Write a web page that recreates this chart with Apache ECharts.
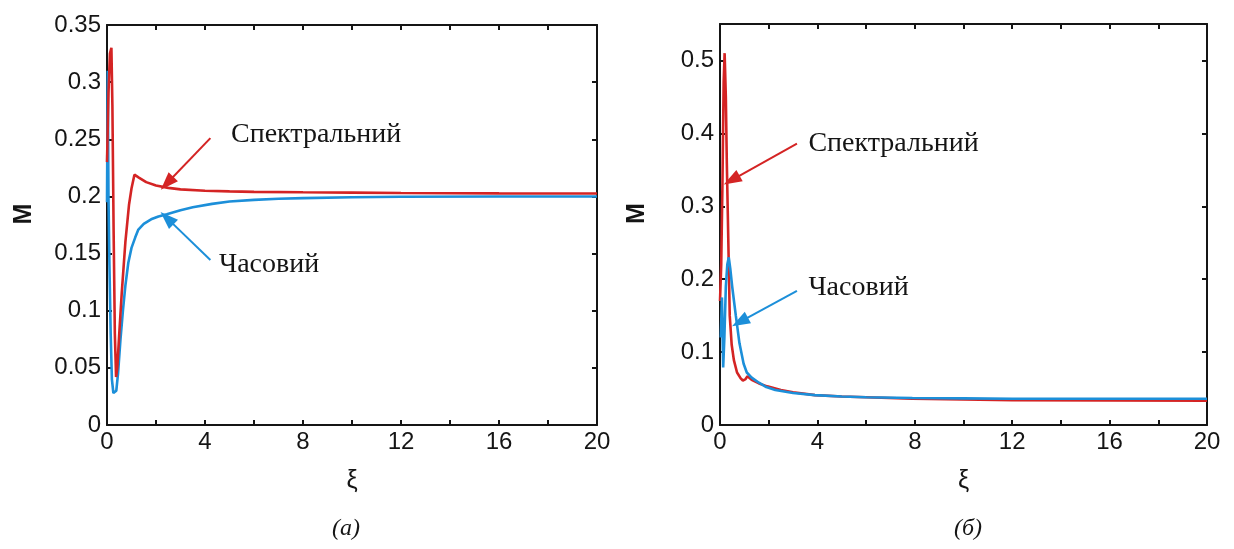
<!DOCTYPE html>
<html>
<head>
<meta charset="utf-8">
<script src="https://cdn.jsdelivr.net/npm/echarts@6/dist/echarts.min.js"></script>
<style>
  html, body { margin: 0; padding: 0; background: #ffffff; }
  #chart { width: 1234px; height: 549px; }
</style>
</head>
<body>
<div id="chart"></div>
<script>
// ---- Panel (a): M(ξ) ----
const aSpectralX = [0, 0.06, 0.12, 0.18, 0.22, 0.27, 0.32, 0.37, 0.42, 0.5, 0.6, 0.75, 0.9, 1.0, 1.12, 1.3, 1.6, 2.0, 2.5, 3.0, 4.0, 5.0, 6.0, 8.0, 10.0, 12.0, 16.0, 20.0];
const aSpectralY = [0.23, 0.29, 0.325, 0.33, 0.28, 0.17, 0.08, 0.042, 0.05, 0.08, 0.115, 0.16, 0.193, 0.207, 0.219, 0.2165, 0.2125, 0.2095, 0.2075, 0.2062, 0.2050, 0.2044, 0.2040, 0.2036, 0.2033, 0.2030, 0.2027, 0.2025];
const aTemporalX = [0, 0.03, 0.06, 0.1, 0.15, 0.2, 0.26, 0.32, 0.38, 0.45, 0.55, 0.65, 0.75, 0.87, 1.0, 1.15, 1.28, 1.5, 1.8, 2.1, 2.44, 3.0, 3.5, 4.29, 5.0, 6.0, 7.0, 8.0, 10.0, 12.0, 16.0, 20.0];
const aTemporalY = [0.195, 0.31, 0.2, 0.14, 0.08, 0.04, 0.028, 0.027, 0.03, 0.045, 0.075, 0.1, 0.122, 0.142, 0.155, 0.164, 0.171, 0.176, 0.18, 0.1825, 0.1845, 0.188, 0.1905, 0.1935, 0.1955, 0.197, 0.198, 0.1985, 0.1993, 0.1997, 0.2, 0.2];

// ---- Panel (б): M(ξ) ----
const bSpectralX = [0, 0.05, 0.1, 0.15, 0.19, 0.24, 0.28, 0.32, 0.36, 0.4, 0.48, 0.57, 0.7, 0.85, 0.94, 1.05, 1.13, 1.3, 1.6, 1.94, 2.5, 3.0, 3.9, 5.0, 6.0, 7.9, 10.0, 12.0, 16.0, 20.0];
const bSpectralY = [0.17, 0.22, 0.33, 0.47, 0.51, 0.45, 0.36, 0.29, 0.22, 0.15, 0.11, 0.089, 0.072, 0.064, 0.061, 0.063, 0.067, 0.062, 0.057, 0.053, 0.048, 0.045, 0.041, 0.039, 0.038, 0.036, 0.035, 0.034, 0.0337, 0.0335];
const bTemporalX = [0.03, 0.08, 0.13, 0.18, 0.24, 0.3, 0.36, 0.42, 0.5, 0.65, 0.8, 0.97, 1.1, 1.3, 1.6, 1.9, 2.27, 3.0, 3.9, 5.0, 6.0, 7.9, 10.0, 12.0, 16.0, 20.0];
const bTemporalY = [0.12, 0.175, 0.079, 0.12, 0.19, 0.22, 0.23, 0.215, 0.19, 0.15, 0.112, 0.084, 0.072, 0.065, 0.058, 0.052, 0.048, 0.044, 0.041, 0.039, 0.038, 0.037, 0.0365, 0.036, 0.036, 0.036];

// Axis tick values
const xTicks = { min: 0, max: 20, interval: 4 };
const aYTicks = { min: 0, max: 0.35, interval: 0.05 };
const bYTicks = { min: 0, max: 0.55, interval: 0.1 };

// Curve names and panel captions
const spectralName = 'Спектральний';
const temporalName = 'Часовий';
const captions = ['(а)', '(б)'];

// Annotation anchors [text position, arrow start, arrow tip] in data units
const aSpectralNote = [[5.04, 0.254], [4.22, 0.251], [2.45, 0.2115]];
const aTemporalNote = [[4.55, 0.140], [4.22, 0.1444], [2.45, 0.181]];
const bSpectralNote = [[3.61, 0.386], [3.16, 0.386], [0.48, 0.336]];
const bTemporalNote = [[3.61, 0.189], [3.16, 0.184], [0.82, 0.1415]];

const RED = '#d42424';
const BLUE = '#1c8fd9';
const INK = '#151515';
const SANS = '"Liberation Sans", Arial, sans-serif';
const SERIF = '"Liberation Serif", "Times New Roman", serif';

function zip(xs, ys) { return xs.map((x, i) => [x, ys[i]]); }

function boxAxisLine() {
  return { show: true, onZero: false, lineStyle: { color: INK, width: 2 } };
}

// max is labelled only when it falls on the tick interval
function maxOnTick(t) {
  const k = t.max / t.interval;
  return Math.abs(k - Math.round(k)) < 1e-9;
}

function xAxes(gridIndex) {
  const base = {
    type: 'value', gridIndex, min: xTicks.min, max: xTicks.max, interval: xTicks.interval,
    splitLine: { show: false },
    axisLine: boxAxisLine(),
    axisTick: { show: true, inside: true, length: 5, lineStyle: { color: INK, width: 2 } },
    minorTick: { show: true, splitNumber: 2, length: 5, lineStyle: { color: INK, width: 2 } }
  };
  return [
    Object.assign({}, base, {
      position: 'bottom', name: 'ξ', nameLocation: 'middle', nameGap: 44,
      nameTextStyle: { fontFamily: SANS, fontSize: 25, color: INK },
      axisLabel: { fontFamily: SANS, fontSize: 24, color: INK, margin: 5 }
    }),
    Object.assign({}, base, { position: 'top', axisLabel: { show: false } })
  ];
}

function yAxes(gridIndex, t) {
  const base = {
    type: 'value', gridIndex, min: t.min, max: t.max, interval: t.interval,
    splitLine: { show: false },
    axisLine: boxAxisLine(),
    axisTick: { show: true, inside: true, length: 5, lineStyle: { color: INK, width: 2 } }
  };
  return [
    Object.assign({}, base, {
      position: 'left', name: 'M', nameLocation: 'middle', nameGap: 70, nameRotate: 90,
      nameTextStyle: { fontFamily: SANS, fontSize: 25, fontWeight: 'bold', color: INK, padding: [0, 0, 0, 22] },
      axisLabel: { fontFamily: SANS, fontSize: 24, color: INK, margin: 6, showMaxLabel: maxOnTick(t) }
    }),
    Object.assign({}, base, { position: 'right', axisLabel: { show: false } })
  ];
}

function curve(name, data, color, axisIdx, note) {
  return {
    type: 'line', name, data,
    xAxisIndex: axisIdx, yAxisIndex: axisIdx,
    showSymbol: false, smooth: false, animation: false,
    lineStyle: { color, width: 2.6 },
    z: 3,
    markLine: {
      silent: true, animation: false,
      symbol: ['none', 'triangle'], symbolSize: [13, 18],
      lineStyle: { color, width: 2, type: 'solid' },
      label: { show: false },
      data: [[{ coord: note[1] }, { coord: note[2] }]]
    },
    markPoint: {
      silent: true, animation: false,
      symbol: 'circle', symbolSize: 1,
      itemStyle: { color: 'rgba(0,0,0,0)' },
      label: {
        show: true, position: 'right', distance: 0,
        formatter: name, fontFamily: SERIF, fontSize: 28, color: INK
      },
      data: [{ coord: note[0] }]
    }
  };
}

const chart = echarts.init(document.getElementById('chart'), null, { renderer: 'canvas' });

chart.setOption({
  backgroundColor: '#ffffff',
  animation: false,
  title: [
    { text: captions[0], left: 341, top: 512, textAlign: 'center',
      textStyle: { fontFamily: SERIF, fontStyle: 'italic', fontWeight: 'normal', fontSize: 24, color: INK } },
    { text: captions[1], left: 963, top: 512, textAlign: 'center',
      textStyle: { fontFamily: SERIF, fontStyle: 'italic', fontWeight: 'normal', fontSize: 24, color: INK } }
  ],
  grid: [
    { left: 107, top: 25, width: 490, height: 400 },
    { left: 720, top: 24, width: 487, height: 401 }
  ],
  xAxis: [...xAxes(0), ...xAxes(1)],
  yAxis: [...yAxes(0, aYTicks), ...yAxes(1, bYTicks)],
  series: [
    curve(temporalName, zip(aTemporalX, aTemporalY), BLUE, 0, aTemporalNote),
    curve(spectralName, zip(aSpectralX, aSpectralY), RED, 0, aSpectralNote),
    curve(spectralName, zip(bSpectralX, bSpectralY), RED, 2, bSpectralNote),
    curve(temporalName, zip(bTemporalX, bTemporalY), BLUE, 2, bTemporalNote)
  ]
});
</script>
</body>
</html>
